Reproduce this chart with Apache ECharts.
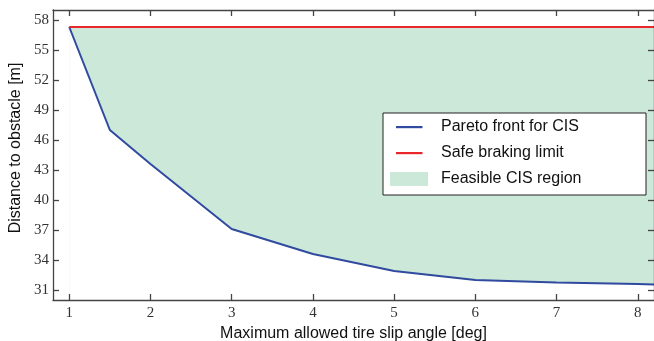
<!DOCTYPE html>
<html>
<head>
<meta charset="utf-8">
<script src="https://cdn.jsdelivr.net/npm/echarts@6/dist/echarts.min.js"></script>
<style>html,body{margin:0;padding:0;background:#fff}#c{width:654px;height:341px}</style>
</head>
<body>
<div id="c"></div>
<script>
// Data
const slipAngles = [1, 1.5, 2, 3, 4, 5, 6, 7, 8, 8.2];
const paretoDist = [57.3, 47.0, 43.6, 37.1, 34.6, 32.9, 32.0, 31.75, 31.6, 31.55];
const safeLimitX = [1, 8.2];
const safeLimit = 57.3;
const xTicks = [1, 2, 3, 4, 5, 6, 7, 8];
const yTicks = [31, 34, 37, 40, 43, 46, 49, 52, 55, 58];

const chart = echarts.init(document.getElementById('c'), null, {renderer: 'canvas'});
const axisCol = '#444';
const serif = 'Liberation Serif';
const sans = 'Liberation Sans';
const green = '#cce8d9';

const paretoData = slipAngles.map((x, i) => [x, paretoDist[i]]);
const safeData = safeLimitX.map(x => [x, safeLimit]);

const xCommon = {
  type: 'value', min: 0.8, max: 8.2, z: 10,
  axisLine: {show: true, lineStyle: {color: axisCol, width: 1.3}},
  axisTick: {show: true, inside: true, length: 6, customValues: xTicks, lineStyle: {color: axisCol, width: 1.3}},
  splitLine: {show: false}
};
const yCommon = {
  type: 'value', min: 30, max: 59, z: 10,
  axisLine: {show: true, lineStyle: {color: axisCol, width: 1.3}},
  axisTick: {show: true, inside: true, length: 6, customValues: yTicks, lineStyle: {color: axisCol, width: 1.3}},
  splitLine: {show: false}
};

chart.setOption({
  animation: false,
  grid: {left: 53, right: 0, top: 10, bottom: 41, containLabel: false, outerBoundsMode: 'none'},
  xAxis: [
    Object.assign({}, xCommon, {
      position: 'bottom',
      name: 'Maximum allowed tire slip angle [deg]',
      nameLocation: 'middle', nameGap: 20,
      nameTextStyle: {fontFamily: sans, fontSize: 16, color: '#111'},
      axisLabel: {show: true, customValues: xTicks, margin: 6, fontFamily: serif, fontSize: 15, color: '#333'}
    }),
    Object.assign({}, xCommon, {position: 'top', axisLabel: {show: false}})
  ],
  yAxis: [
    Object.assign({}, yCommon, {
      position: 'left',
      name: 'Distance to obstacle [m]',
      nameLocation: 'middle', nameGap: 24,
      nameTextStyle: {fontFamily: sans, fontSize: 16, color: '#111', padding: [0, 0, 0, 14]},
      axisLabel: {show: true, customValues: yTicks, margin: 4, fontFamily: serif, fontSize: 15, color: '#333'}
    }),
    Object.assign({}, yCommon, {position: 'right', axisLabel: {show: false}})
  ],
  legend: {
    orient: 'vertical',
    left: 383, top: 113,
    backgroundColor: '#fff',
    borderColor: '#222', borderWidth: 1, borderRadius: 0,
    padding: [6, 15, 8, 7],
    itemWidth: 38, itemHeight: 14, itemGap: 10,
    textStyle: {fontFamily: sans, fontSize: 16, color: '#111', lineHeight: 16, width: 190, padding: [0, 0, 0, 8]},
    data: [
      {name: 'Pareto front for CIS', icon: 'path://M0,0M38,14M6,6L32.5,6L32.5,8.2L6,8.2Z'},
      {name: 'Safe braking limit', icon: 'path://M0,0M38,14M6,6L32.5,6L32.5,8.2L6,8.2Z'},
      {name: 'Feasible CIS region', icon: 'rect'}
    ]
  },
  series: [
    {
      // green fill from the safe braking limit down; the part below the Pareto front is masked by its white area
      name: 'Feasible CIS region', type: 'line', data: safeData,
      symbol: 'none', z: 1,
      lineStyle: {width: 0, opacity: 0},
      areaStyle: {color: green, opacity: 1, origin: 'start'},
      itemStyle: {color: green}
    },
    {
      name: 'Pareto front for CIS', type: 'line', data: paretoData,
      symbol: 'none', z: 3,
      lineStyle: {color: '#2f4a9e', width: 2},
      areaStyle: {color: '#ffffff', opacity: 1, origin: 'start'},
      itemStyle: {color: '#2f4a9e'}
    },
    {
      name: 'Safe braking limit', type: 'line', data: safeData,
      symbol: 'none', z: 4,
      lineStyle: {color: '#e8262c', width: 2},
      itemStyle: {color: '#e8262c'}
    }
  ]
});
</script>
</body>
</html>
